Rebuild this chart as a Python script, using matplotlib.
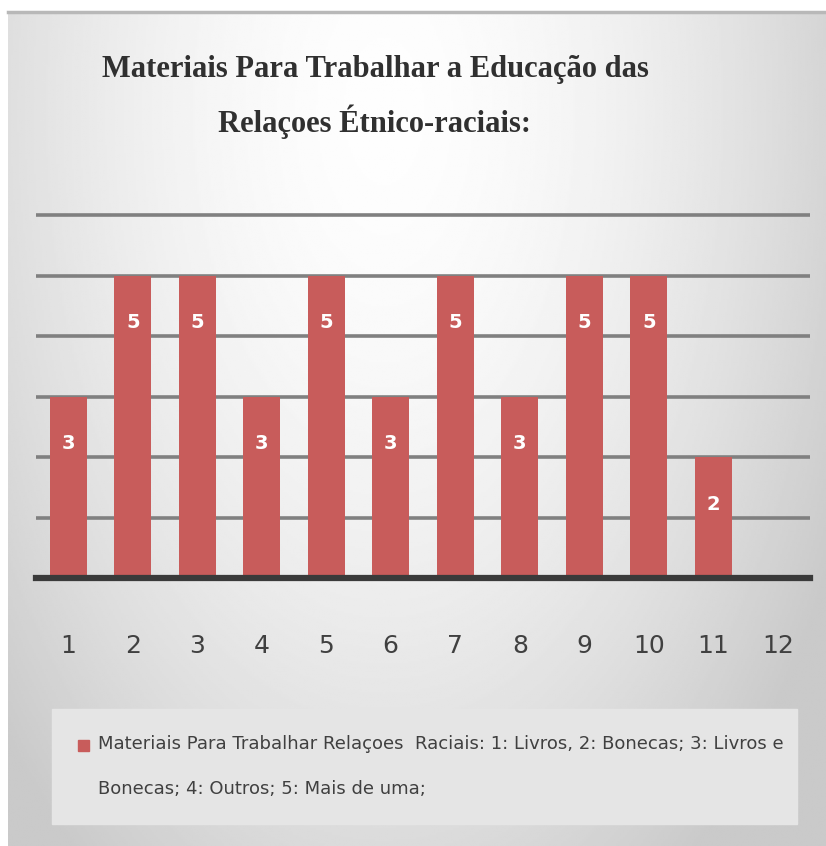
import numpy as np
import matplotlib.pyplot as plt
from matplotlib.patches import Patch, Rectangle
from matplotlib.legend_handler import HandlerPatch
from matplotlib.lines import Line2D

# dados do grafico
categorias = [str(i) for i in range(1, 13)]
valores = [3, 5, 5, 3, 5, 3, 5, 3, 5, 5, 2, 0]
titulo = "Materiais Para Trabalhar a Educação das\nRelaçoes Étnico-raciais:"
legenda = ("Materiais Para Trabalhar Relaçoes  Raciais: 1: Livros, 2: Bonecas; 3: Livros e\n"
           "Bonecas; 4: Outros; 5: Mais de uma;")

narrow = ['Liberation Sans Narrow', 'DejaVu Sans Condensed', 'DejaVu Sans']
serif = ['Liberation Serif', 'DejaVu Serif']
cor_barra = '#c85c5b'

W, H = 826, 846
fig = plt.figure(figsize=(W / 100, H / 100), dpi=100)
fig.patch.set_facecolor('white')

# fundo com gradiente
bg = fig.add_axes([8 / W, 0, 818 / W, 1 - 11 / H])
yy, xx = np.mgrid[0:1:400j, 0:1:400j]
r = np.sqrt(((xx - 0.46) / 0.62) ** 2 + ((yy - 0.12) / 1.1) ** 2)
grad = np.clip(0.995 - 0.2 * r ** 1.7, 0.79, 1.0)
bg.imshow(grad, cmap='gray', vmin=0, vmax=1, aspect='auto', extent=[0, 1, 1, 0])
bg.set_xlim(0, 1)
bg.set_ylim(1, 0)
bg.axis('off')
fig.add_artist(Line2D([8 / W, 1], [1 - 12.5 / H] * 2, transform=fig.transFigure,
                      color='#b8b8b8', linewidth=2.5))

ymax = 6.03
ax = fig.add_axes([36 / W, 1 - 578 / H, 774 / W, 363 / H * ymax / 6])
ax.set_facecolor('none')
x = np.arange(1, 13)
ax.bar(x, valores, width=0.58, color=cor_barra, zorder=3)
for xi, v in zip(x, valores):
    if v > 0:
        ax.annotate(str(v), (xi, v), xytext=(0, -34), textcoords='offset points',
                    ha='center', va='center', color='white', fontsize=14,
                    fontweight='bold', family=narrow, zorder=4)

ax.set_xlim(0.5, 12.5)
ax.set_ylim(0, ymax)
ax.set_yticks(range(1, 7))
ax.yaxis.grid(True, color='#808080', linewidth=2.6, zorder=1)
ax.tick_params(axis='y', left=False, labelleft=False)
ax.set_xticks(x)
ax.set_xticklabels(categorias, family=narrow, fontsize=18, color='#404040')
ax.tick_params(axis='x', length=0, pad=40)
for s in ['top', 'right', 'left']:
    ax.spines[s].set_visible(False)
ax.spines['bottom'].set_color('#3a3a3a')
ax.spines['bottom'].set_linewidth(4.5)
ax.spines['bottom'].set_zorder(5)

fig.text(375 / W, 1 - 97 / H, titulo, ha='center', va='center', family=serif,
         fontsize=22, fontweight='bold', color='#303030', linespacing=1.75)


def marcador_topo(legend, orig_handle, xdescent, ydescent, width, height, fontsize):
    s = 0.62 * fontsize
    return Rectangle((-xdescent, -ydescent + height - 0.35 * s), width, s)


leg = fig.legend(handles=[Patch(color=cor_barra, label=legenda)], loc='upper left',
                 bbox_to_anchor=(52 / W, 1 - 710 / H, 745 / W, 0.001), mode='expand',
                 borderaxespad=0, frameon=True, fancybox=False, facecolor='#e5e5e5',
                 edgecolor='#e5e5e5', framealpha=1, handlelength=0.62, handleheight=3.3,
                 handletextpad=0.5, borderpad=1.45, prop={'family': narrow, 'size': 13},
                 labelcolor='#404040',
                 handler_map={Patch: HandlerPatch(patch_func=marcador_topo)})
for t in leg.get_texts():
    t.set_linespacing(2.9)

fig.savefig('out.png', dpi=100)
